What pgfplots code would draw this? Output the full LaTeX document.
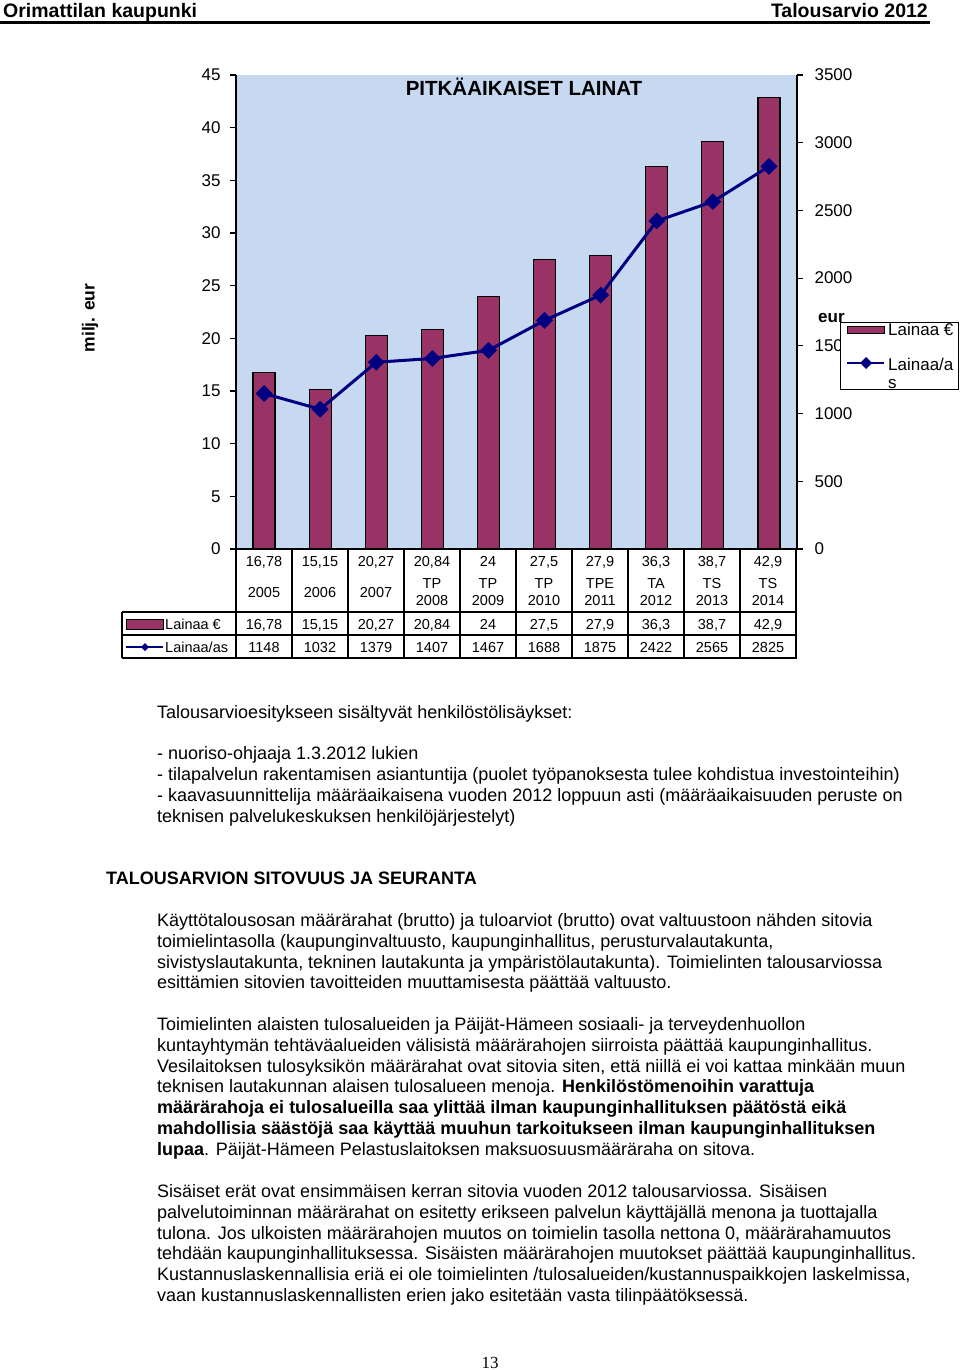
\documentclass[border=0pt]{standalone}
\usepackage{fontspec}
\setmainfont{Liberation Sans}
\newfontfamily\timesfont{Liberation Serif}
\usepackage{pgfplots}
\usepackage{pgfplotstable}
\pgfplotsset{compat=1.18}
\definecolor{bgblue}{RGB}{198,217,241}
\definecolor{barred}{RGB}{153,51,102}
\definecolor{navyline}{RGB}{0,0,128}

\pgfplotstableread{
x lainaa as
0 16.78 1148
1 15.15 1032
2 20.27 1379
3 20.84 1407
4 24.0 1467
5 27.5 1688
6 27.9 1875
7 36.3 2422
8 38.7 2565
9 42.9 2825
}\loandata

\newcommand\bodyfont{\fontsize{18}{20.8}\selectfont}
\newcommand\tickfont{\fontsize{17}{19}\selectfont}
\newcommand\tabfont{\fontsize{14.5}{16.5}\selectfont}
\newcommand\tl[2]{\node[anchor=base west,inner sep=0pt,font=\bodyfont] at (157pt,-#1pt) {#2};}

\begin{document}
\begin{tikzpicture}
\path[use as bounding box, fill=white] (0pt,0pt) rectangle (960pt,-1370pt);

% header
\node[anchor=base west,inner sep=0pt,font=\fontsize{19.5}{22}\selectfont\bfseries] at (3pt,-17.5pt) {Orimattilan kaupunki};
\node[anchor=base east,inner sep=0pt,font=\fontsize{19.5}{22}\selectfont\bfseries] at (928pt,-17.5pt) {Talousarvio 2012};
\draw[line width=3pt] (0pt,-23pt) -- (930pt,-23pt);

% bar axis
\begin{axis}[
  at={(236pt,-549pt)}, anchor=south west,
  width=561pt, height=474pt, scale only axis,
  xmin=-0.5, xmax=9.5, ymin=0, ymax=45,
  axis x line*=bottom, axis y line*=left,
  xtick=\empty,
  ytick={0,5,...,45},
  tick align=outside, major tick length=6pt,
  tick style={black, line width=1.1pt},
  axis line style={black, line width=1.1pt},
  axis background/.style={fill=bgblue},
  ybar, bar width=22pt,
  scaled y ticks=false,
  /pgf/number format/assume math mode=true,
  yticklabel style={font=\tickfont, xshift=-6pt},
  clip=false,
]
\addplot[fill=barred, draw=black, line width=1.2pt] table[x=x,y=lainaa]{\loandata};
\end{axis}

% line axis
\begin{axis}[
  at={(236pt,-549pt)}, anchor=south west,
  width=561pt, height=474pt, scale only axis,
  xmin=-0.5, xmax=9.5, ymin=0, ymax=3500,
  axis y line*=right, axis x line=none,
  ytick={0,500,...,3500},
  tick align=outside, major tick length=6pt,
  tick style={black, line width=1.1pt},
  axis line style={black, line width=1.1pt},
  scaled y ticks=false,
  /pgf/number format/assume math mode=true,
  /pgf/number format/1000 sep={},
  yticklabel style={font=\tickfont, xshift=8pt},
  clip=false,
]
\addplot[navyline, line width=3pt, mark=square*, mark size=4.5pt, mark options={rotate=45, solid}] table[x=x,y=as]{\loandata};
\end{axis}

% title and axis labels
\node[font=\fontsize{20.5}{23}\selectfont\bfseries] at (524pt,-87pt) {PITKÄAIKAISET LAINAT};
\node[font=\fontsize{17.5}{20}\selectfont\bfseries, rotate=90] at (90pt,-318pt) {milj. eur};
\node[anchor=west, inner sep=0pt, font=\fontsize{17}{20}\selectfont\bfseries] at (818pt,-318pt) {eur};

% legend
\draw[fill=white, line width=1pt] (840pt,-322pt) rectangle (958pt,-389pt);
\draw[fill=barred, line width=1pt] (847pt,-326pt) rectangle (884pt,-333pt);
\node[anchor=west, inner sep=0pt, font=\tickfont] at (888pt,-329pt) {Lainaa €};
\draw[navyline, line width=2.5pt] (847pt,-363pt) -- (884pt,-363pt);
\fill[navyline] (866pt,-357pt) -- (872pt,-363pt) -- (866pt,-369pt) -- (860pt,-363pt) -- cycle;
\node[anchor=west, inner sep=0pt, font=\tickfont] at (888pt,-364pt) {Lainaa/a};
\node[anchor=west, inner sep=0pt, font=\tickfont] at (888pt,-384pt) {s};

% data table
\foreach \k in {0,...,10} {
  \pgfmathsetmacro\xx{236+56*\k}
  \draw[line width=1.1pt] (\xx pt,-549pt) -- (\xx pt,-658pt);
}
\draw[line width=1.1pt] (122pt,-612pt) -- (797pt,-612pt);
\draw[line width=1.1pt] (122pt,-635pt) -- (797pt,-635pt);
\draw[line width=1.1pt] (122pt,-658pt) -- (797pt,-658pt);
\draw[line width=1.1pt] (122pt,-612pt) -- (122pt,-658pt);

\foreach \v [count=\i from 0] in {{16,78},{15,15},{20,27},{20,84},{24},{27,5},{27,9},{36,3},{38,7},{42,9}} {
  \pgfmathsetmacro\xx{264+56*\i}
  \node[font=\tabfont, inner sep=0pt, anchor=base] at (\xx pt,-566pt) {\v};
  \node[font=\tabfont, inner sep=0pt, anchor=base] at (\xx pt,-629pt) {\v};
}
\foreach \v [count=\i from 0] in {1148,1032,1379,1407,1467,1688,1875,2422,2565,2825} {
  \pgfmathsetmacro\xx{264+56*\i}
  \node[font=\tabfont, inner sep=0pt, anchor=base] at (\xx pt,-652pt) {\v};
}
\foreach \v [count=\i from 0] in {2005,2006,2007} {
  \pgfmathsetmacro\xx{264+56*\i}
  \node[font=\tabfont, inner sep=0pt, anchor=base] at (\xx pt,-597pt) {\v};
}
\foreach \a/\b [count=\i from 3] in {TP/2008,TP/2009,TP/2010,TPE/2011,TA/2012,TS/2013,TS/2014} {
  \pgfmathsetmacro\xx{264+56*\i}
  \node[font=\tabfont, inner sep=0pt, anchor=base] at (\xx pt,-588pt) {\a};
  \node[font=\tabfont, inner sep=0pt, anchor=base] at (\xx pt,-605pt) {\b};
}
\draw[fill=barred, line width=1pt] (126pt,-619pt) rectangle (163pt,-629pt);
\node[anchor=base west, inner sep=0pt, font=\tabfont] at (165pt,-629pt) {Lainaa €};
\draw[navyline, line width=2pt] (126pt,-647pt) -- (163pt,-647pt);
\fill[navyline] (145pt,-643pt) -- (149pt,-647pt) -- (145pt,-651pt) -- (141pt,-647pt) -- cycle;
\node[anchor=base west, inner sep=0pt, font=\tabfont] at (165pt,-652pt) {Lainaa/as};

% body text
\tl{718.5}{Talousarvioesitykseen sisältyvät henkilöstölisäykset:}
\tl{759.5}{- nuoriso-ohjaaja 1.3.2012 lukien}
\tl{780.5}{- tilapalvelun rakentamisen asiantuntija (puolet työpanoksesta tulee kohdistua investointeihin)}
\tl{801.5}{- kaavasuunnittelija määräaikaisena vuoden 2012 loppuun asti (määräaikaisuuden peruste on}
\tl{822.5}{teknisen palvelukeskuksen henkilöjärjestelyt)}
\node[anchor=base west,inner sep=0pt,font=\bodyfont\bfseries] at (106pt,-884.5pt) {TALOUSARVION SITOVUUS JA SEURANTA};
\tl{926.5}{Käyttötalousosan määrärahat (brutto) ja tuloarviot (brutto) ovat valtuustoon nähden sitovia}
\tl{947.3}{toimielintasolla (kaupunginvaltuusto, kaupunginhallitus, perusturvalautakunta,}
\tl{968.0}{sivistyslautakunta, tekninen lautakunta ja ympäristölautakunta). Toimielinten talousarviossa}
\tl{988.8}{esittämien sitovien tavoitteiden muuttamisesta päättää valtuusto.}
\tl{1030.5}{Toimielinten alaisten tulosalueiden ja Päijät-Hämeen sosiaali- ja terveydenhuollon}
\tl{1051.3}{kuntayhtymän tehtäväalueiden välisistä määrärahojen siirroista päättää kaupunginhallitus.}
\tl{1072.0}{Vesilaitoksen tulosyksikön määrärahat ovat sitovia siten, että niillä ei voi kattaa minkään muun}
\tl{1092.8}{teknisen lautakunnan alaisen tulosalueen menoja. \textbf{Henkilöstömenoihin varattuja}}
\tl{1113.5}{\textbf{määrärahoja ei tulosalueilla saa ylittää ilman kaupunginhallituksen päätöstä eikä}}
\tl{1134.3}{\textbf{mahdollisia säästöjä saa käyttää muuhun tarkoitukseen ilman kaupunginhallituksen}}
\tl{1155.0}{\textbf{lupaa}. Päijät-Hämeen Pelastuslaitoksen maksuosuusmääräraha on sitova.}
\tl{1197.5}{Sisäiset erät ovat ensimmäisen kerran sitovia vuoden 2012 talousarviossa. Sisäisen}
\tl{1218.3}{palvelutoiminnan määrärahat on esitetty erikseen palvelun käyttäjällä menona ja tuottajalla}
\tl{1239.0}{tulona. Jos ulkoisten määrärahojen muutos on toimielin tasolla nettona 0, määrärahamuutos}
\tl{1259.8}{tehdään kaupunginhallituksessa. Sisäisten määrärahojen muutokset päättää kaupunginhallitus.}
\tl{1280.5}{Kustannuslaskennallisia eriä ei ole toimielinten /tulosalueiden/kustannuspaikkojen laskelmissa,}
\tl{1301.3}{vaan kustannuslaskennallisten erien jako esitetään vasta tilinpäätöksessä.}

% page number
\node[font=\fontsize{17}{20}\timesfont, inner sep=0pt, anchor=base] at (490pt,-1368pt) {13};
\end{tikzpicture}
\end{document}
